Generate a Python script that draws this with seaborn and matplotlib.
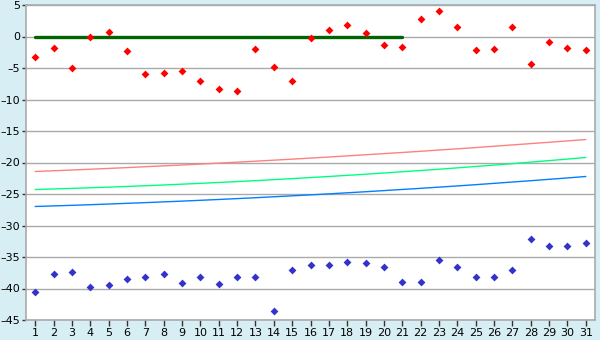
import matplotlib
matplotlib.use("Agg")
import matplotlib.pyplot as plt
import seaborn as sns
import pandas as pd

days = list(range(1, 32))

red_points = [-3.3, -1.9, -5.0, -0.1, 0.7, -2.35, -6.0, -5.8, -5.4, -7.1,
              -8.4, -8.7, -2.0, -4.9, -7.0, -0.3, 1.0, 1.9, 0.5, -1.4,
              -1.7, 2.7, 4.0, 1.5, -2.2, -2.0, 1.5, -4.3, -0.9, -1.9, -2.2]

blue_points = [-40.6, -37.7, -37.4, -39.8, -39.5, -38.5, -38.2, -37.7, -39.2, -38.2,
               -39.3, -38.2, -38.2, -43.5, -37.1, -36.2, -36.2, -35.8, -36.0, -36.6,
               -38.9, -38.9, -35.5, -36.6, -38.2, -38.2, -37.1, -32.2, -33.3, -33.3, -32.8]

red_line = [-21.43, -21.31, -21.19, -21.07, -20.94, -20.81, -20.67, -20.53, -20.40, -20.25,
            -20.10, -19.95, -19.79, -19.63, -19.47, -19.30, -19.13, -18.95, -18.77, -18.59,
            -18.41, -18.22, -18.02, -17.83, -17.63, -17.42, -17.21, -17.00, -16.79, -16.57, -16.35]

green_line = [-24.29, -24.20, -24.11, -24.01, -23.91, -23.80, -23.69, -23.57, -23.44, -23.31,
              -23.17, -23.03, -22.88, -22.72, -22.56, -22.39, -22.22, -22.04, -21.86, -21.67,
              -21.47, -21.27, -21.07, -20.85, -20.63, -20.41, -20.18, -19.94, -19.70, -19.46, -19.20]

blue_line = [-26.98, -26.89, -26.80, -26.70, -26.59, -26.48, -26.37, -26.25, -26.13, -26.00,
             -25.87, -25.73, -25.59, -25.44, -25.29, -25.14, -24.98, -24.81, -24.64, -24.46,
             -24.28, -24.10, -23.91, -23.72, -23.52, -23.31, -23.10, -22.89, -22.67, -22.45, -22.22]

zero_days = [1, 21]
zero_vals = [0, 0]

y_ticks = [5, 0, -5, -10, -15, -20, -25, -30, -35, -40, -45]

BG = "#d8eef5"
GRID = "#aaaaaa"

sns.set_style("white")
plt.rcParams["font.family"] = ["DejaVu Sans"]

fig = plt.figure(figsize=(6, 3.4), dpi=100, facecolor=BG)
ax = fig.add_axes([26 / 600, 1 - 320 / 340, (595 - 26) / 600, (320 - 5) / 340])
ax.set_facecolor("white")

df_lines = pd.DataFrame({"day": days, "red": red_line, "green": green_line, "blue": blue_line})
sns.lineplot(data=df_lines, x="day", y="red", color="#ff8080", linewidth=1.0, ax=ax)
sns.lineplot(data=df_lines, x="day", y="green", color="#00ff80", linewidth=1.0, ax=ax)
sns.lineplot(data=df_lines, x="day", y="blue", color="#0080ff", linewidth=1.0, ax=ax)

df_zero = pd.DataFrame({"day": zero_days, "v": zero_vals})
sns.lineplot(data=df_zero, x="day", y="v", color="#006400", linewidth=2.4, ax=ax)

df_pts = pd.DataFrame({"day": days, "red": red_points, "blue": blue_points})
sns.scatterplot(data=df_pts, x="day", y="red", color="#ff0000", marker="D", s=16,
                linewidth=0, ax=ax, zorder=5)
sns.scatterplot(data=df_pts, x="day", y="blue", color="#3333cc", marker="D", s=16,
                linewidth=0, ax=ax, zorder=5)

ax.set_xlim(0.5, 31.5)
ax.set_ylim(-45, 5)
ax.set_xticks(days)
ax.set_xticklabels([str(d) for d in days])
ax.set_yticks(y_ticks)
ax.set_yticklabels([str(t).replace("-", "\u2013") for t in y_ticks])
ax.set_xlabel("")
ax.set_ylabel("")

for t in y_ticks:
    ax.axhline(t, color=GRID, linewidth=1.0, zorder=0)

for s in ax.spines.values():
    s.set_color(GRID)
    s.set_linewidth(1.2)

ax.tick_params(axis="x", direction="out", length=4, width=1, color="#333333",
               labelsize=8, pad=2, labelcolor="#000000")
ax.tick_params(axis="y", direction="out", length=3, width=1, color="#333333",
               labelsize=8, pad=1, labelcolor="#000000")
ax.tick_params(bottom=True, left=True)

fig.savefig("out.png", dpi=100, facecolor=BG)
